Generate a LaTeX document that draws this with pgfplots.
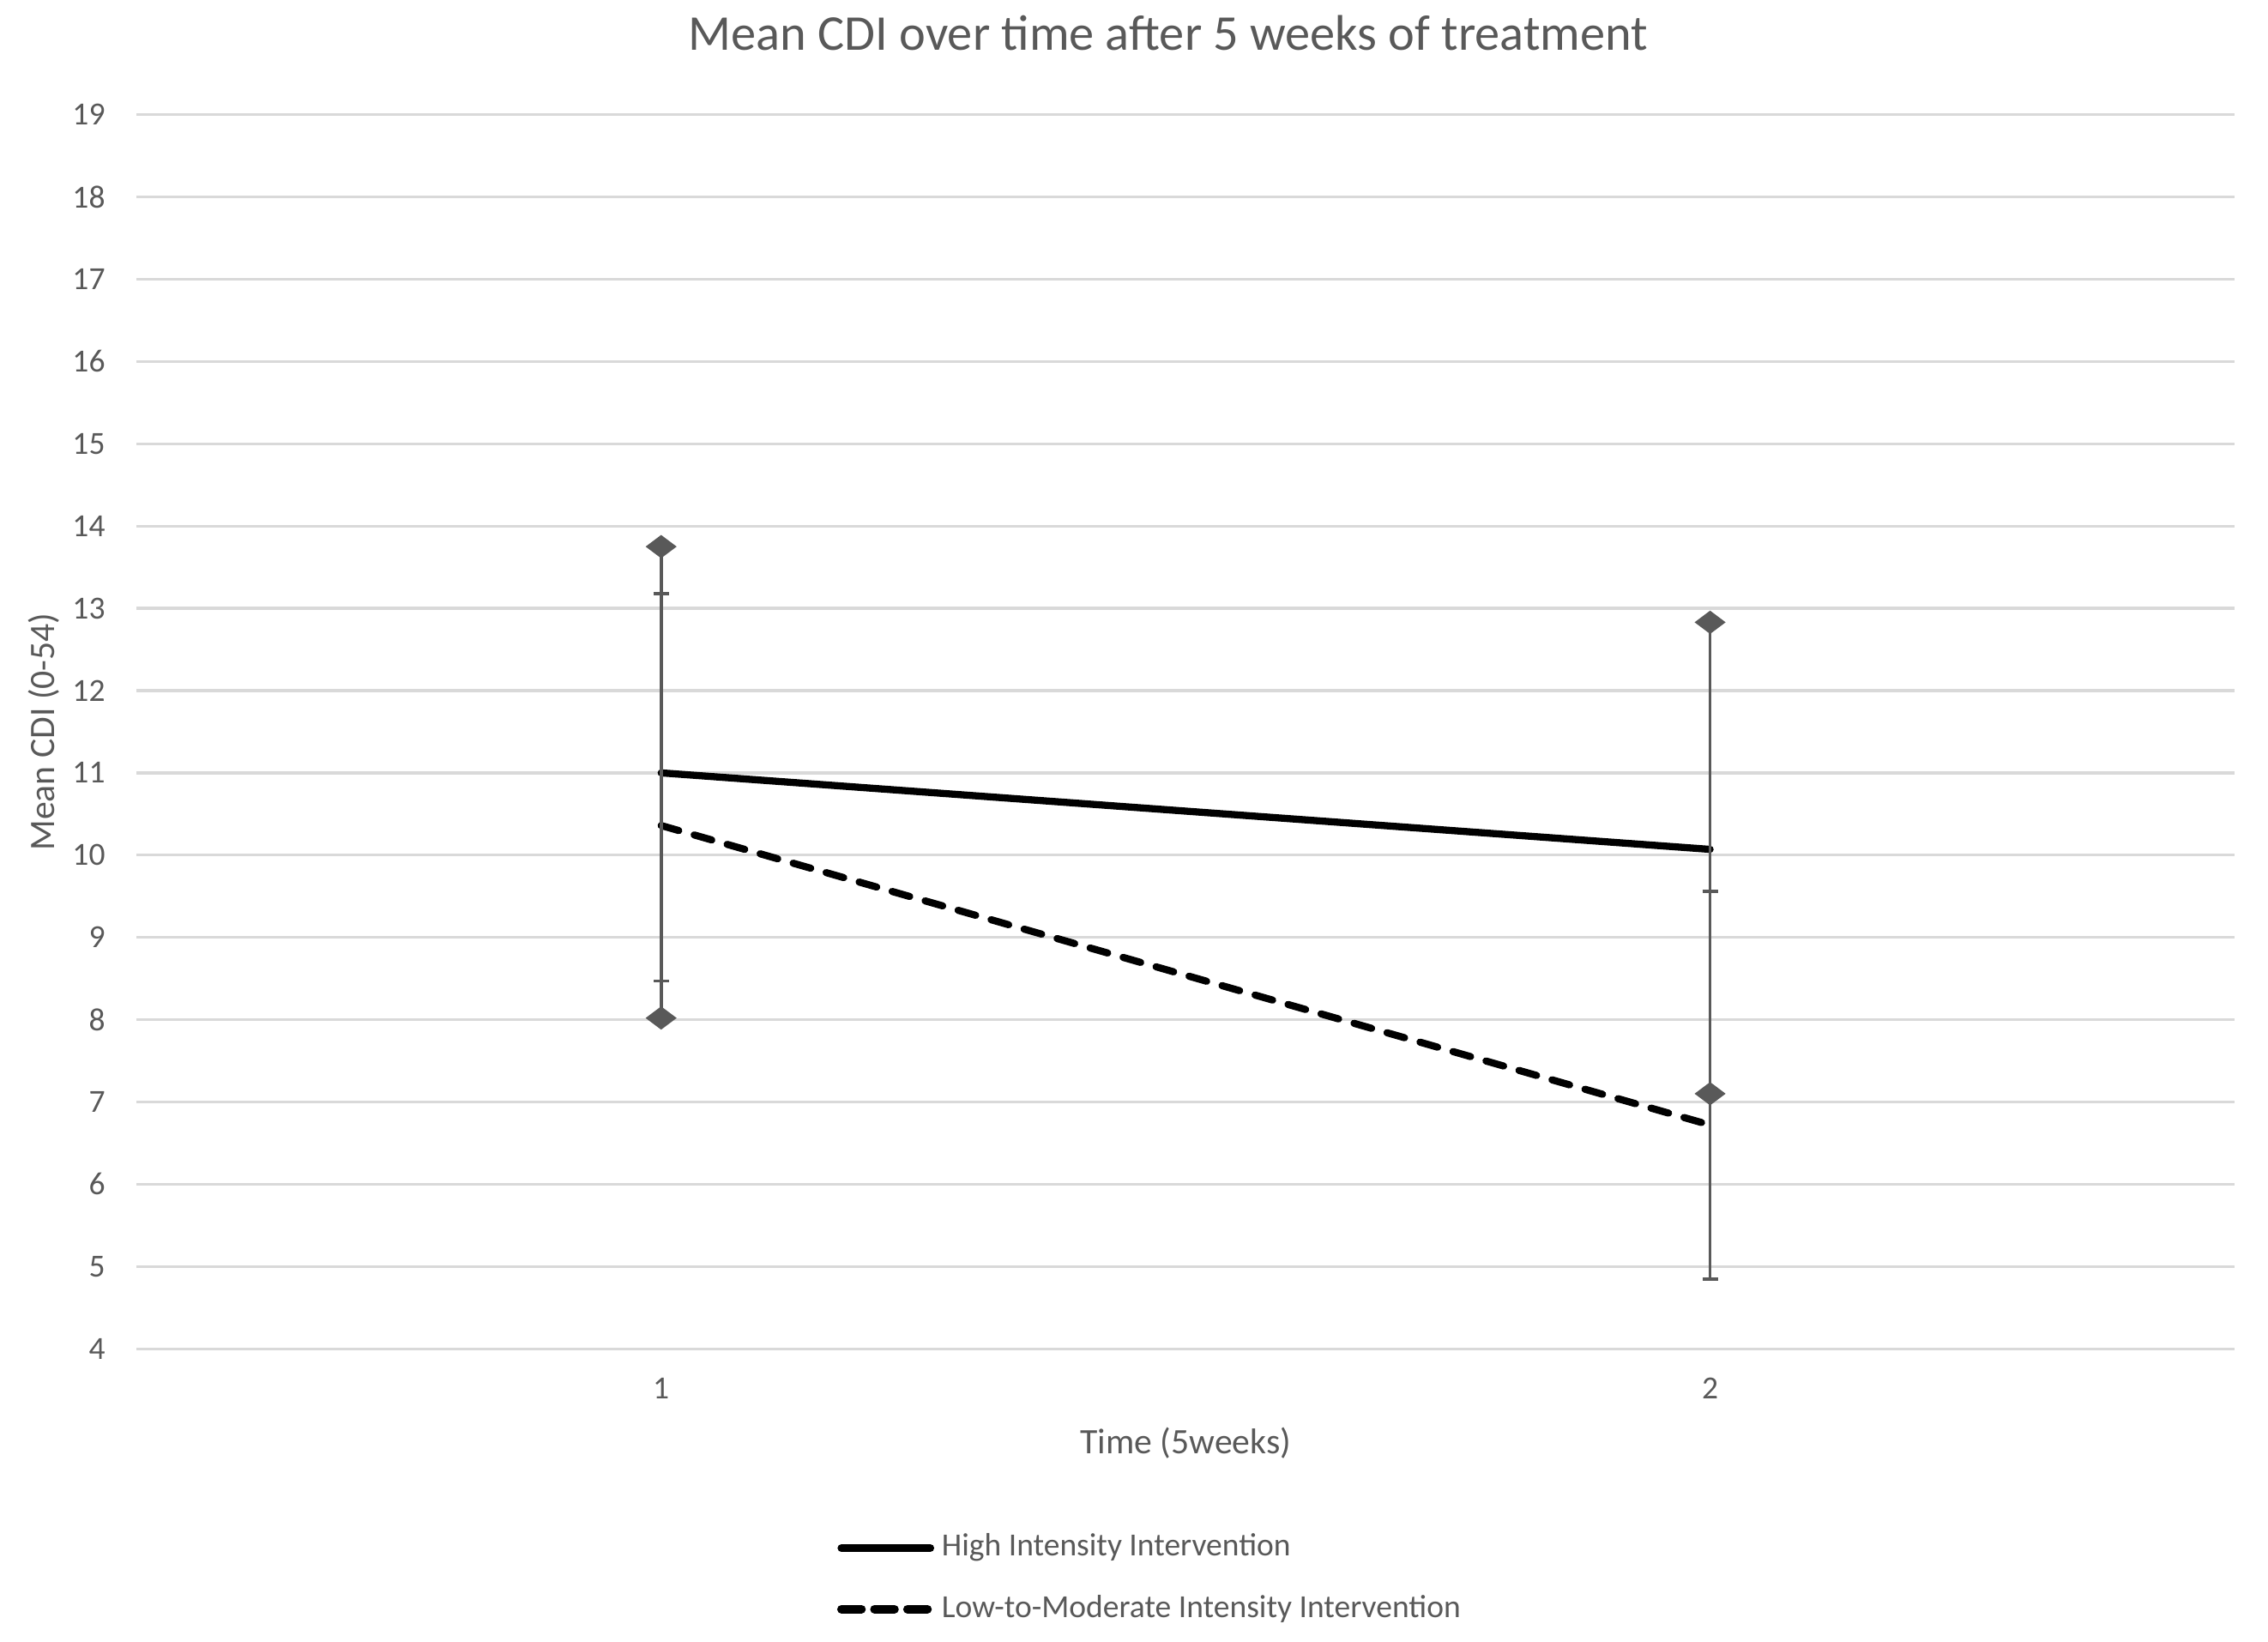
\documentclass[border=0pt]{standalone}
\usepackage{fontspec}
\setmainfont{Carlito}
\usepackage{pgfplots}
\pgfplotsset{compat=1.18}
\definecolor{txt}{HTML}{595959}
\definecolor{gridc}{HTML}{D9D9D9}
\definecolor{barc}{HTML}{595959}

\begin{document}
\begin{tikzpicture}
\path[use as bounding box] (0,0) rectangle (15.6cm,11.29cm);
\begin{axis}[
  at={(9.40mm,20.14mm)}, anchor=south west,
  scale only axis, width=144.3mm, height=84.87mm,
  xmin=0.5, xmax=2.5, ymin=4, ymax=19,
  xtick={1,2}, ytick={4,...,19},
  axis line style={draw=none},
  ymajorgrids, grid style={gridc, line width=0.56pt},
  major tick length=0pt,
  /pgf/number format/assume math mode=true,
  tick label style={font=\fontsize{6.3}{7.5}\selectfont, text=txt, inner sep=0pt},
  xticklabel style={anchor=center, yshift=-2.75mm},
  yticklabel style={anchor=east, xshift=-2.1mm},
  every axis title shift=0pt,
  title={Mean CDI over time after 5 weeks of treatment},
  title style={at={(axis description cs:0.4917,1.066)}, anchor=center,
    font=\fontsize{9.8}{12}\selectfont, text=txt},
  xlabel={Time (5weeks)},
  xlabel style={at={(axis description cs:0.5,-0.0766)}, anchor=center,
    font=\fontsize{7}{8.5}\selectfont, text=txt},
  ylabel={Mean CDI (0-54)},
  ylabel style={at={(axis description cs:-0.0444,0.5)}, anchor=center,
    font=\fontsize{7}{8.5}\selectfont, text=txt},
  legend cell align=left,
  legend style={at={(axis description cs:0.3334,-0.1448)}, anchor=north west,
    draw=none, fill=none, inner sep=0pt, row sep=1.5mm, column sep=0.2mm,
    font=\fontsize{6.3}{7.5}\selectfont, text=txt,
    nodes={inner sep=0.3mm, text height=1.6mm, text depth=0.5mm}},
]
% high intensity: error ends drawn as diamonds
\addplot[black, line width=0.49mm, line cap=round, forget plot,
  error bars/.cd, y dir=both, y explicit,
  error mark=diamond*,
  error bar style={barc, line width=0.22mm, solid},
  error mark options={barc, fill=barc, mark size=0.95mm, solid}
] coordinates {
  (1,11.00) += (0,2.75) -= (0,2.98)
  (2,10.07) += (0,2.76) -= (0,2.97)
};

% low-to-moderate: error ends drawn as caps
\addplot[black, line width=0.49mm, line cap=round, forget plot,
  dash pattern=on 1.26mm off 1.1mm,
  error bars/.cd, y dir=both, y explicit,
  error mark=-,
  error bar style={barc, line width=0.22mm, solid},
  error mark options={rotate=90, barc, mark size=0.53mm, line width=0.22mm, solid}
] coordinates {
  (1,10.36) += (0,2.82) -= (0,1.89)
  (2,6.72)  += (0,2.84) -= (0,1.87)
};

\addlegendimage{legend image code/.code={
  \draw[black, line width=0.55mm, line cap=round] (0.3mm,0mm) -- (6.4mm,0mm);}}
\addlegendentry{High Intensity Intervention}
\addlegendimage{legend image code/.code={
  \draw[black, line width=0.6mm, line cap=round, dash pattern=on 1.37mm off 0.9mm]
    (0.3mm,0mm) -- (6.4mm,0mm);}}
\addlegendentry{Low-to-Moderate Intensity Intervention}
\end{axis}
\end{tikzpicture}
\end{document}
